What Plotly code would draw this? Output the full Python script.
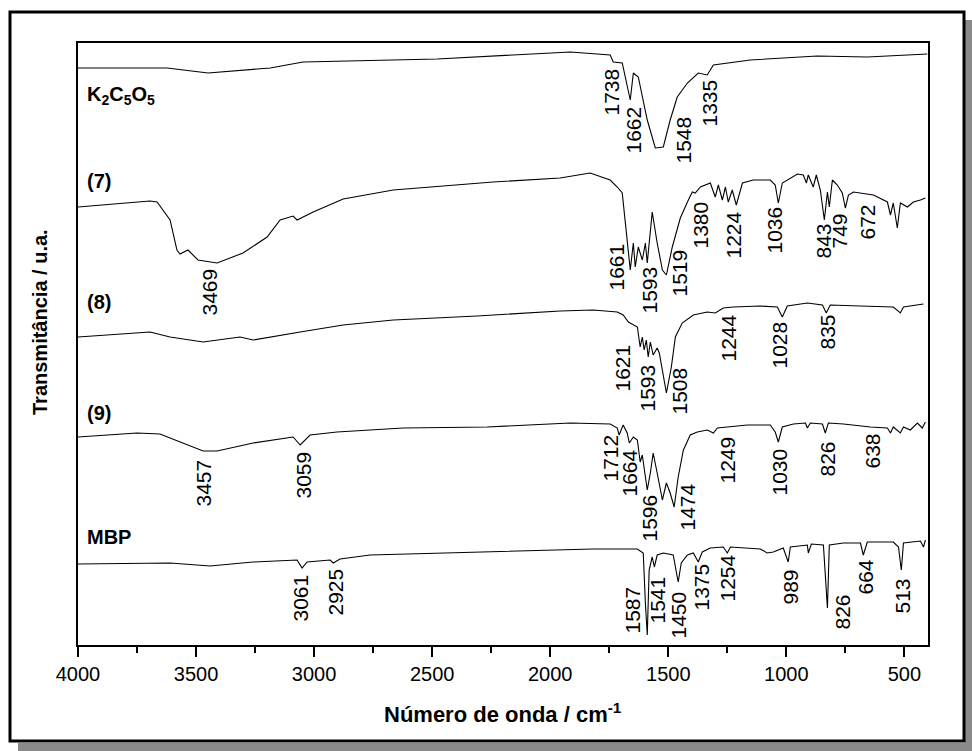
import plotly.graph_objects as go

# ---- data (arbitrary transmittance units incl. stacking offset) ----
k2c5o5_wn = [4000, 3623, 3449, 3186, 3047, 2479, 1915, 1746, 1733, 1695, 1661, 1648, 1627, 1589, 1555,
             1521, 1492, 1462, 1419, 1373, 1335, 1309, 1153, 869, 657, 403]
k2c5o5_t = [577, 577, 572, 577, 583, 586, 593, 590, 583, 582, 545, 572, 568, 525, 497,
            498, 525, 548, 562, 572, 570, 580, 585, 589, 588, 591]

c7_wn = [4000, 3695, 3665, 3610, 3581, 3568, 3534, 3492, 3411, 3301, 3199, 3144, 3089, 3072, 3004, 2877,
         2665, 2242, 1958, 1831, 1746, 1716, 1695, 1674, 1661, 1648, 1640, 1627, 1610, 1597, 1589, 1568,
         1547, 1525, 1508, 1483, 1449, 1415, 1398, 1386, 1364, 1322, 1301, 1288, 1271, 1258, 1246, 1229,
         1212, 1186, 1140, 1068, 1047, 1034, 1017, 953, 928, 915, 907, 886, 873, 856, 839, 826, 818, 805,
         784, 763, 750, 737, 716, 631, 572, 559, 547, 530, 517, 487, 462, 432, 411]
c7_t = [438, 444, 443, 425, 395, 391, 395, 385, 382, 392, 408, 425, 429, 425, 433, 446,
        455, 463, 467, 472, 465, 458, 452, 402, 375, 402, 378, 398, 385, 402, 382, 433,
        402, 375, 370, 398, 427, 445, 453, 452, 458, 462, 448, 460, 445, 458, 443, 455,
        440, 462, 465, 465, 460, 442, 462, 471, 470, 462, 470, 458, 470, 455, 425, 453, 438, 465,
        460, 452, 437, 450, 453, 450, 443, 430, 442, 417, 442, 438, 443, 445, 447]

c8_wn = [4000, 3695, 3610, 3470, 3314, 3258, 3059, 2877, 2665, 2309, 1958, 1818, 1716, 1691, 1669, 1631,
         1619, 1610, 1602, 1593, 1585, 1576, 1564, 1547, 1538, 1521, 1508, 1487, 1470, 1441, 1394, 1335,
         1301, 1267, 1225, 1110, 1038, 1017, 996, 911, 847, 831, 814, 686, 547, 517, 504, 419]
c8_t = [308, 313, 308, 303, 308, 305, 313, 320, 325, 329, 334, 335, 333, 330, 323, 318,
        298, 308, 295, 305, 288, 303, 290, 297, 292, 268, 252, 278, 308, 322, 330, 333,
        332, 337, 338, 339, 338, 328, 339, 342, 340, 332, 340, 339, 338, 332, 338, 341]

c9_wn = [4000, 3750, 3653, 3568, 3470, 3411, 3258, 3089, 3059, 3017, 2903, 2623, 2267, 1915, 1746, 1716,
         1708, 1691, 1674, 1665, 1648, 1631, 1619, 1610, 1597, 1589, 1576, 1564, 1547, 1525, 1508, 1492,
         1475, 1458, 1436, 1407, 1377, 1335, 1309, 1292, 1250, 1165, 1068, 1047, 1034, 1017, 970, 919,
         911, 898, 847, 835, 822, 758, 644, 572, 559, 547, 517, 504, 475, 445, 424, 411]
c9_t = [208, 212, 211, 203, 194, 194, 202, 208, 200, 210, 213, 217, 218, 222, 221, 217,
        210, 220, 212, 202, 208, 205, 183, 190, 165, 155, 172, 192, 172, 145, 162, 152,
        138, 168, 195, 210, 213, 215, 212, 217, 218, 220, 220, 213, 203, 218, 221, 222,
        217, 222, 221, 212, 222, 221, 218, 217, 212, 218, 212, 218, 215, 222, 217, 223]

mbp_wn = [4000, 3610, 3441, 3258, 3072, 3051, 3030, 2932, 2919, 2890, 2763, 2479, 1915, 1818, 1631, 1606,
          1597, 1589, 1581, 1568, 1559, 1547, 1521, 1479, 1462, 1458, 1445, 1419, 1394, 1373, 1356, 1322,
          1267, 1250, 1237, 1110, 1081, 1055, 1013, 992, 983, 911, 907, 894, 843, 826, 818, 758, 686, 674,
          657, 547, 525, 513, 504, 432, 419, 411]
mbp_t = [81, 82, 79, 83, 85, 77, 83, 85, 82, 86, 90, 92, 96, 96, 96, 92,
         42, 10, 75, 88, 78, 90, 92, 90, 68, 63, 82, 90, 92, 83, 93, 97,
         98, 92, 98, 96, 92, 93, 97, 83, 98, 100, 92, 101, 100, 37, 100, 102, 102, 90,
         103, 103, 98, 75, 102, 104, 98, 105]

series_names = ["K<sub>2</sub>C<sub>5</sub>O<sub>5</sub>", "(7)", "(8)", "(9)", "MBP"]
series_wn = [k2c5o5_wn, c7_wn, c8_wn, c9_wn, mbp_wn]
series_t = [k2c5o5_t, c7_t, c8_t, c9_t, mbp_t]

# peak labels per series
peaks_k2 = ["1738", "1662", "1548", "1335"]
peaks_7 = ["3469", "1661", "1593", "1519", "1380", "1224", "1036", "843", "749", "672"]
peaks_8 = ["1621", "1593", "1508", "1244", "1028", "835"]
peaks_9 = ["3457", "3059", "1712", "1664", "1596", "1474", "1249", "1030", "826", "638"]
peaks_mbp = ["3061", "2925", "1587", "1541", "1450", "1375", "1254", "989", "826", "664", "513"]

x_ticks = [4000, 3500, 3000, 2500, 2000, 1500, 1000, 500]
x_title = "Número de onda / cm<sup>-1</sup>"
y_title = "Transmitância / u.a."

# ---- layout helpers (pixel positions on the page) ----
W, H = 972, 751
L, R, T, B = 78, 928, 43, 645
XMIN, XMAX = 4000, 400
YMAX = B - T


def px_to_wn(px):
    return XMAX + (XMIN - XMAX) * (R - px) / (R - L)


def py_to_v(py):
    return B - py


def pxp(px):
    return (px - L) / (R - L)


def pyp(py):
    return (B - py) / (B - T)


peak_pos = {
    0: [(611, 67), (633, 105), (683, 115), (709, 78)],
    1: [(209, 267), (616, 242), (649, 265), (679, 248), (700, 200), (733, 210), (774, 205), (823, 222),
        (839, 212), (867, 203)],
    2: [(622, 343), (647, 363), (679, 366), (728, 313), (779, 320), (827, 313)],
    3: [(203, 458), (303, 450), (610, 433), (629, 448), (649, 493), (687, 482), (727, 435), (779, 447),
        (827, 440), (872, 432)],
    4: [(300, 573), (335, 567), (632, 585), (657, 575), (678, 590), (701, 562), (727, 553), (790, 568),
        (842, 593), (865, 558), (902, 577)],
}
peak_texts = [peaks_k2, peaks_7, peaks_8, peaks_9, peaks_mbp]
name_pos = [(85, 95), (85, 181), (85, 302), (85, 413), (85, 537)]

FONT = "Liberation Sans, Arial, sans-serif"

fig = go.Figure()
for wn, t in zip(series_wn, series_t):
    fig.add_trace(go.Scatter(x=wn, y=t, mode="lines", line=dict(color="black", width=1.1),
                             showlegend=False, hoverinfo="skip"))

ann = []
for i, texts in enumerate(peak_texts):
    for txt, (px, py) in zip(texts, peak_pos[i]):
        ann.append(dict(x=px_to_wn(px), y=py_to_v(py), xref="x", yref="y", text=txt, showarrow=False,
                        textangle=-90, xanchor="center", yanchor="top",
                        font=dict(family=FONT, size=21, color="black")))
for name, (px, py) in zip(series_names, name_pos):
    ann.append(dict(x=px_to_wn(px), y=py_to_v(py), xref="x", yref="y", text="<b>" + name + "</b>",
                    showarrow=False, xanchor="left", yanchor="middle",
                    font=dict(family=FONT, size=20, color="black")))
ann.append(dict(x=pxp(503), y=pyp(713), xref="paper", yref="paper", text="<b>" + x_title + "</b>",
                showarrow=False, xanchor="center", yanchor="middle",
                font=dict(family=FONT, size=22, color="black")))
ann.append(dict(x=pxp(40), y=pyp(322), xref="paper", yref="paper", text="<b>" + y_title + "</b>",
                showarrow=False, textangle=-90, xanchor="center", yanchor="middle",
                font=dict(family=FONT, size=20, color="black")))

shapes = [
    # drop shadow
    dict(type="rect", xref="paper", yref="paper", x0=pxp(965), x1=pxp(975), y0=pyp(760), y1=pyp(20),
         fillcolor="#8a8a8a", line=dict(width=0), layer="below"),
    dict(type="rect", xref="paper", yref="paper", x0=pxp(18), x1=pxp(975), y0=pyp(760), y1=pyp(743),
         fillcolor="#8a8a8a", line=dict(width=0), layer="below"),
    # outer frame
    dict(type="rect", xref="paper", yref="paper", x0=pxp(10), x1=pxp(964), y0=pyp(741), y1=pyp(12),
         line=dict(color="black", width=3), fillcolor="rgba(0,0,0,0)", layer="below"),
]

fig.update_layout(
    width=W, height=H,
    margin=dict(l=L, r=W - R, t=T, b=H - B),
    paper_bgcolor="white", plot_bgcolor="white",
    annotations=ann, shapes=shapes,
    xaxis=dict(range=[XMIN, XMAX], tickvals=x_ticks, ticktext=[str(v) for v in x_ticks],
               ticks="outside", ticklen=10, tickwidth=2, tickcolor="black",
               showline=True, linewidth=2, linecolor="black", mirror=True, showgrid=False, zeroline=False,
               tickfont=dict(family=FONT, size=20, color="black"),
               minor=dict(ticks="outside", ticklen=6, tickwidth=2, tickcolor="black", dtick=250, tick0=0,
                          showgrid=False)),
    yaxis=dict(range=[0, YMAX], showticklabels=False, ticks="", showline=True, linewidth=2,
               linecolor="black", mirror=True, showgrid=False, zeroline=False),
)

fig.write_html("out.html", config={"displayModeBar": False},
               post_script="document.body.style.margin='0px';document.body.style.overflow='hidden';")
